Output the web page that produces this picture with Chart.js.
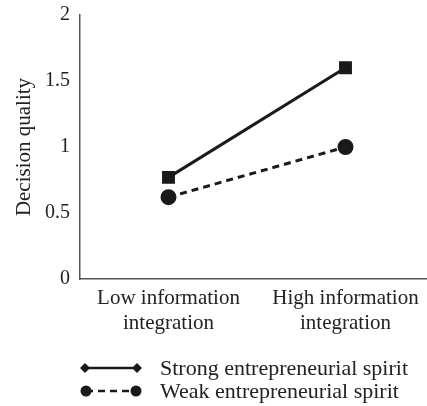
<!DOCTYPE html>
<html lang="en">
<head>
<meta charset="UTF-8">
<title>Decision quality</title>
<script src="https://cdn.jsdelivr.net/npm/chart.js@4.4.0/dist/chart.umd.min.js"></script>
<style>
    html, body {
        margin: 0;
        padding: 0;
        background: #fff;
        overflow: hidden;
    }
    #wrap {
        position: relative;
        width: 444px;
        height: 406px;
    }
    #legend {
        position: absolute;
        left: 80px;
        top: 356px;
        font-family: "Liberation Serif", "DejaVu Serif", serif;
        font-size: 22px;
        color: #222;
    }
    .row {
        display: flex;
        align-items: center;
        height: 23px;
    }
    .row svg {
        margin-right: 18px;
    }
</style>
</head>
<body>
<div id="wrap">
    <canvas id="chart" width="444" height="406"></canvas>
    <div id="legend">
        <div class="row">
            <svg width="62" height="14">
                <line x1="5" y1="7" x2="57" y2="7" stroke="#1a1a1a" stroke-width="2.5"/>
                <polygon points="0,7 5,2 10,7 5,12" fill="#1a1a1a"/>
                <polygon points="52,7 57,2 62,7 57,12" fill="#1a1a1a"/>
            </svg>
            <span>Strong entrepreneurial spirit</span>
        </div>
        <div class="row">
            <svg width="62" height="14">
                <line x1="6" y1="7" x2="56" y2="7" stroke="#1a1a1a" stroke-width="2.5" stroke-dasharray="7,5"/>
                <circle cx="6" cy="7" r="5.5" fill="#1a1a1a"/>
                <circle cx="56" cy="7" r="5.5" fill="#1a1a1a"/>
            </svg>
            <span>Weak entrepreneurial spirit</span>
        </div>
    </div>
</div>

<script>
    const categories = [["Low information", "integration"], ["High information", "integration"]];
    const strongSpirit = [0.77, 1.6];
    const weakSpirit = [0.62, 1.0];
    const yTicks = [0, 0.5, 1, 1.5, 2];

    const serif = "'Liberation Serif', 'DejaVu Serif', serif";
    const ink = '#1a1a1a';

    new Chart(document.getElementById('chart'), {
        type: 'line',
        data: {
            labels: categories,
            datasets: [{
                label: 'Strong entrepreneurial spirit',
                data: strongSpirit,
                borderColor: ink,
                backgroundColor: ink,
                borderWidth: 3,
                pointStyle: 'rect',
                pointRadius: 7,
                pointHoverRadius: 7
            }, {
                label: 'Weak entrepreneurial spirit',
                data: weakSpirit,
                borderColor: ink,
                backgroundColor: ink,
                borderWidth: 3,
                borderDash: [7, 5],
                pointStyle: 'circle',
                pointRadius: 6.5,
                pointHoverRadius: 6.5
            }]
        },
        options: {
            responsive: false,
            animation: false,
            layout: {
                padding: { top: 15, bottom: 67, left: 0, right: 0 }
            },
            plugins: {
                legend: { display: false },
                tooltip: { enabled: false }
            },
            scales: {
                x: {
                    offset: true,
                    grid: { display: false, drawTicks: false },
                    border: { color: '#555', width: 1.5 },
                    ticks: {
                        color: '#222',
                        padding: 7,
                        maxRotation: 0,
                        font: { family: serif, size: 21, lineHeight: 1.2 }
                    },
                    afterFit: s => { s.height = 60; }
                },
                y: {
                    min: 0,
                    max: 2,
                    afterBuildTicks: s => { s.ticks = yTicks.map(v => ({ value: v })); },
                    grid: { display: false, drawTicks: false },
                    border: { color: '#555', width: 1.5 },
                    ticks: {
                        color: '#222',
                        padding: 10,
                        font: { family: serif, size: 20 },
                        callback: v => String(v)
                    },
                    title: {
                        display: true,
                        text: 'Decision quality',
                        color: '#222',
                        padding: { top: 12, bottom: 0 },
                        font: { family: serif, size: 21 }
                    },
                    afterFit: s => {
                        s.width = 80;
                        s.paddingTop = 0;
                        s.paddingBottom = 0;
                    }
                }
            }
        }
    });
</script>
</body>
</html>
